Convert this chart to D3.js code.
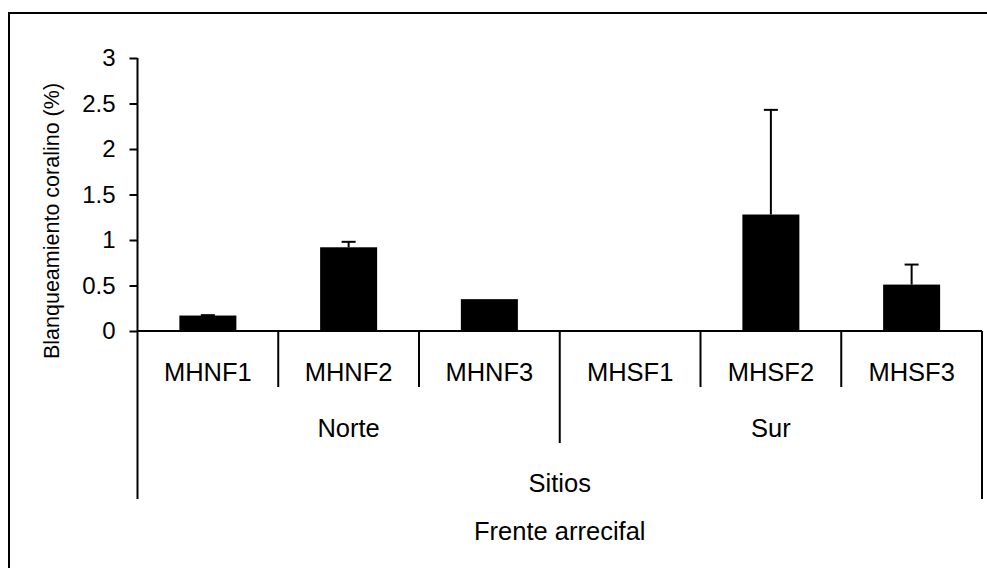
<!DOCTYPE html>
<html>
<head>
<meta charset="utf-8">
<script src="https://cdn.jsdelivr.net/npm/d3@7"></script>
<style>
  html, body { margin: 0; padding: 0; background: #fff; }
  svg { display: block; font-family: "Liberation Sans", Arial, sans-serif; }
</style>
</head>
<body>
<svg id="chart" width="987" height="568"></svg>
<script>
// Coral bleaching by site, grouped by reef front
const sites = ["MHNF1", "MHNF2", "MHNF3", "MHSF1", "MHSF2", "MHSF3"];
const fronts = ["Norte", "Norte", "Norte", "Sur", "Sur", "Sur"];
const groups = ["Norte", "Sur"];
const bleaching = [0.17, 0.92, 0.35, 0.0, 1.28, 0.51];
const errors = [0.004, 0.06, 0.0, 0.0, 1.15, 0.22];
const yTicks = [0, 0.5, 1, 1.5, 2, 2.5, 3];

const svg = d3.select("#chart");
const W = 987, H = 568;

const x0 = 137.5, x1 = 982, yBase = 331, yTop = 58;
const y = d3.scaleLinear().domain([0, 3]).range([yBase, yTop]);
const x = d3.scaleBand().domain(sites).range([x0, x1]).paddingInner(0).paddingOuter(0);
const barW = x.bandwidth() * 0.405;

// outer frame (only left and top edges fall inside the canvas)
svg.append("rect")
  .attr("x", 9).attr("y", 13)
  .attr("width", W + 20).attr("height", H + 20)
  .attr("fill", "none").attr("stroke", "#000").attr("stroke-width", 2);

// y axis
const yAxis = d3.axisLeft(y).tickValues(yTicks).tickSize(8).tickPadding(14)
  .tickFormat(d => d3.format("")(d));
const gy = svg.append("g").attr("transform", `translate(${x0},0)`).call(yAxis);
gy.select(".domain").remove();
gy.selectAll(".tick line").attr("stroke", "#000").attr("stroke-width", 2);
gy.selectAll(".tick text").attr("font-size", 24).attr("fill", "#000")
  .attr("font-family", "Liberation Sans, Arial, sans-serif");

// y axis line
svg.append("line").attr("x1", x0).attr("x2", x0).attr("y1", yTop).attr("y2", yBase)
  .attr("stroke", "#000").attr("stroke-width", 2);

// y axis title
svg.append("text")
  .attr("transform", `translate(59,221) rotate(-90)`)
  .attr("text-anchor", "middle")
  .attr("font-size", 21.5)
  .attr("fill", "#000")
  .text("Blanqueamiento coralino (%)");

// bars
svg.append("g").selectAll("rect").data(sites).join("rect")
  .attr("x", d => x(d) + (x.bandwidth() - barW) / 2)
  .attr("width", barW)
  .attr("y", (d, i) => y(bleaching[i]))
  .attr("height", (d, i) => yBase - y(bleaching[i]))
  .attr("fill", "#000");

// error bars (upper only)
const eg = svg.append("g").attr("stroke", "#000").attr("stroke-width", 2);
sites.forEach((s, i) => {
  const cx = x(s) + x.bandwidth() / 2;
  const yv = y(bleaching[i]), ye = y(bleaching[i] + errors[i]);
  if (errors[i] > 0.01) {
    eg.append("line").attr("x1", cx).attr("x2", cx).attr("y1", yv).attr("y2", ye);
  }
  if (i !== 2) {
    eg.append("line").attr("x1", cx - 7).attr("x2", cx + 7).attr("y1", ye).attr("y2", ye);
  }
});

// x axis line
svg.append("line").attr("x1", x0).attr("x2", x1).attr("y1", yBase).attr("y2", yBase)
  .attr("stroke", "#000").attr("stroke-width", 2);

// hierarchical category separators
const sepLevel = [];
for (let i = 0; i <= sites.length; i++) {
  let bottom;
  if (i === 0 || i === sites.length) bottom = 499;
  else if (fronts[i] !== fronts[i - 1]) bottom = 443;
  else bottom = 387;
  const xs = i < sites.length ? x(sites[i]) : x1;
  sepLevel.push({ xs, bottom });
}
svg.append("g").selectAll("line").data(sepLevel).join("line")
  .attr("x1", d => d.xs).attr("x2", d => d.xs)
  .attr("y1", yBase).attr("y2", d => d.bottom)
  .attr("stroke", "#000").attr("stroke-width", 2);

// site labels
svg.append("g").selectAll("text").data(sites).join("text")
  .attr("x", d => x(d) + x.bandwidth() / 2)
  .attr("y", 381)
  .attr("text-anchor", "middle")
  .attr("font-size", 25.5)
  .attr("fill", "#000")
  .text(d => d);

// front labels
svg.append("g").selectAll("text").data(groups).join("text")
  .attr("x", g => {
    const members = sites.filter((s, i) => fronts[i] === g);
    return (x(members[0]) + x(members[members.length - 1]) + x.bandwidth()) / 2;
  })
  .attr("y", 437)
  .attr("text-anchor", "middle")
  .attr("font-size", 25.5)
  .attr("fill", "#000")
  .text(g => g);

// axis level titles
svg.append("text").attr("x", (x0 + x1) / 2).attr("y", 492)
  .attr("text-anchor", "middle").attr("font-size", 25.5).attr("fill", "#000")
  .text("Sitios");
svg.append("text").attr("x", (x0 + x1) / 2).attr("y", 540)
  .attr("text-anchor", "middle").attr("font-size", 25.5).attr("fill", "#000")
  .text("Frente arrecifal");
</script>
</body>
</html>
